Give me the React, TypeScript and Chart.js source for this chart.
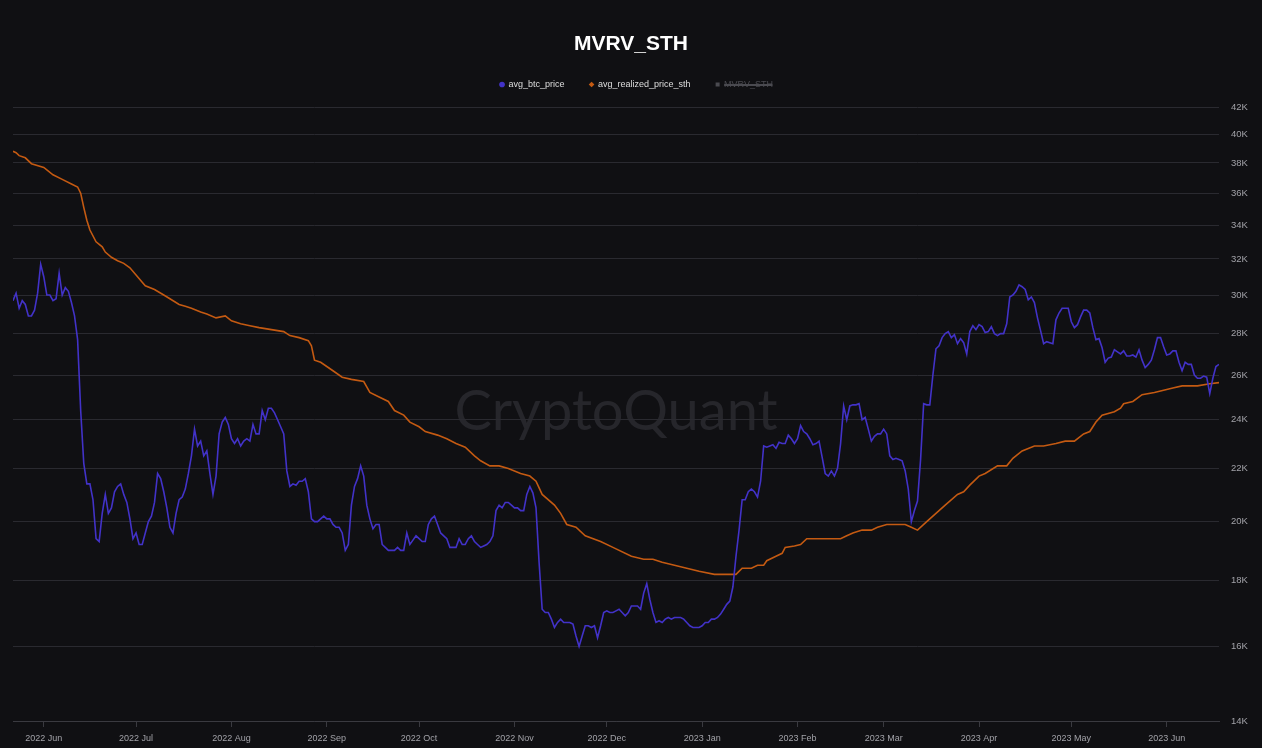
import React, { useEffect, useRef } from "react";
import { Chart, registerables } from "chart.js";

Chart.register(...registerables);

const FONT = "'Liberation Sans', Arial, Helvetica, sans-serif";
Chart.defaults.font.family = FONT;

const CHART_TITLE = "MVRV_STH";
const WATERMARK = "CryptoQuant";
const START_DATE = "2022-05-22";

const seriesNames = ["avg_btc_price", "avg_realized_price_sth", "MVRV_STH"];

// daily average BTC price, one value per day from START_DATE
const btcPrice: number[] = [
  29700, 30100, 29300, 29700, 29500, 28900, 28900, 29200, 30100, 31700,
  31000, 30000, 30000, 29700, 29800, 31200, 30000, 30400, 30200, 29600,
  28900, 27700, 24400, 22200, 21400, 21400, 20800, 19400, 19300, 20300,
  21000, 20300, 20500, 21100, 21300, 21400, 21000, 20700, 20100, 19400,
  19600, 19200, 19200, 19600, 20000, 20200, 20700, 21800, 21600, 21100,
  20500, 19800, 19600, 20300, 20800, 20900, 21200, 21800, 22500, 23600,
  22900, 23100, 22500, 22700, 21800, 21000, 21700, 23400, 23900, 24100,
  23800, 23200, 23000, 23200, 22900, 23100, 23200, 23100, 23800, 23400,
  23400, 24400, 24000, 24500, 24500, 24300, 24000, 23700, 23400, 21900,
  21300, 21400, 21350, 21500, 21500, 21600, 21100, 20100, 20000, 20000,
  20100, 20200, 20100, 20100, 19900, 19800, 19800, 19600, 19000, 19200,
  20600, 21300, 21600, 22100, 21700, 20600, 20100, 19750, 19900, 19900,
  19200, 19100, 19000, 19000, 19000, 19100, 19000, 19000, 19600, 19200,
  19350, 19500, 19400, 19300, 19300, 19900, 20100, 20200, 19900, 19600,
  19500, 19400, 19100, 19100, 19100, 19400, 19200, 19200, 19400, 19500,
  19300, 19200, 19100, 19150, 19200, 19300, 19500, 20400, 20600, 20500,
  20700, 20700, 20600, 20500, 20500, 20400, 20400, 21000, 21300, 21050,
  20500, 18600, 17100, 17000, 17000, 16800, 16550, 16700, 16800, 16700,
  16700, 16700, 16650, 16300, 16000, 16300, 16600, 16600, 16550, 16600,
  16250, 16600, 17000, 17050, 17000, 17000, 17050, 17100, 17000, 16900,
  17000, 17200, 17200, 17200, 17100, 17600, 17900, 17400, 17000, 16700,
  16750, 16700, 16800, 16850, 16800, 16850, 16850, 16850, 16800, 16700,
  16600, 16550, 16550, 16550, 16600, 16700, 16700, 16800, 16800, 16850,
  16950, 17100, 17250, 17350, 17800, 18800, 19700, 20800, 20800, 21100,
  21200, 21100, 20900, 21500, 22900, 22850, 22900, 22950, 22800, 23050,
  23000, 23000, 23350, 23200, 23000, 23200, 23750, 23500, 23400, 23200,
  22950, 23000, 23100, 22450, 21800, 21700, 21900, 21700, 22000, 23000,
  24600, 24000, 24600, 24650, 24650, 24700, 24000, 24100, 23600, 23100,
  23300, 23400, 23400, 23600, 23400, 22500, 22350, 22400, 22350, 22300,
  21900, 21200, 20000, 20400, 20750, 22350, 24700, 24650, 24650, 26000,
  27250, 27400, 27800, 28000, 28100, 27800, 27950, 27500, 27750, 27550,
  27000, 28100, 28400, 28200, 28450, 28350, 28050, 28100, 28350, 28000,
  27900, 28000, 28000, 28500, 29900, 30000, 30200, 30550, 30450, 30300,
  29750, 29900, 29600, 28800, 28150, 27500, 27600, 27550, 27500, 28700,
  29050, 29300, 29300, 29300, 28600, 28300, 28450, 28850, 29200, 29200,
  29050, 28300, 27700, 27750, 27300, 26600, 26800, 26850, 27200, 27100,
  27000, 27150, 26900, 26900, 26950, 26850, 27200, 26700, 26350, 26500,
  26700, 27200, 27800, 27800, 27350, 26950, 27000, 27150, 27150, 26600,
  26200, 26600, 26500, 26500, 26000, 25850, 25850, 25950, 25900, 25150,
  25850, 26400, 26500,
];

// realized price of short-term holders, read at these day offsets from START_DATE
const realizedDays: number[] = [
  0, 1, 2, 4, 6, 10, 13, 16, 19, 21,
  22, 23, 24, 25, 27, 29, 30, 32, 34, 36,
  38, 40, 42, 43, 46, 49, 51, 54, 56, 58,
  61, 63, 66, 69, 71, 74, 77, 80, 84, 88,
  90, 93, 96, 97, 98, 100, 104, 107, 110, 114,
  116, 119, 122, 124, 127, 129, 132, 134, 138, 141,
  144, 147, 150, 152, 155, 158, 161, 165, 168, 170,
  172, 176, 178, 180, 183, 186, 191, 195, 201, 205,
  208, 211, 215, 219, 223, 228, 232, 235, 237, 240,
  242, 244, 245, 248, 250, 251, 254, 256, 258, 261,
  263, 267, 269, 271, 273, 276, 279, 281, 284, 287,
  290, 292, 294, 297, 298, 301, 303, 307, 309, 311,
  314, 316, 320, 323, 325, 328, 332, 335, 339, 342,
  345, 348, 350, 352, 354, 358, 360, 361, 364, 367,
  371, 374, 377, 380, 385, 389, 392,
];
const realizedPrice: number[] = [
  38800, 38700, 38500, 38350, 37950, 37700, 37200, 36900, 36600, 36400,
  36000, 35100, 34300, 33700, 33000, 32700, 32400, 32100, 31900, 31750,
  31500, 31100, 30700, 30500, 30300, 30000, 29800, 29500, 29400, 29300,
  29100, 29000, 28800, 28900, 28650, 28500, 28400, 28300, 28200, 28100,
  27900, 27800, 27650, 27400, 26700, 26600, 26200, 25900, 25800, 25700,
  25200, 25000, 24800, 24400, 24200, 23900, 23700, 23500, 23350, 23200,
  23000, 22850, 22500, 22300, 22100, 22100, 22000, 21800, 21700, 21500,
  21000, 20600, 20300, 19900, 19800, 19500, 19300, 19100, 18800, 18700,
  18700, 18600, 18500, 18400, 18300, 18200, 18200, 18200, 18400, 18400,
  18500, 18500, 18650, 18800, 18900, 19100, 19150, 19200, 19400, 19400,
  19400, 19400, 19400, 19500, 19600, 19700, 19700, 19800, 19900, 19900,
  19900, 19800, 19700, 20000, 20100, 20400, 20600, 21000, 21100, 21350,
  21700, 21800, 22100, 22100, 22400, 22700, 22900, 22900, 23000, 23100,
  23100, 23400, 23500, 23900, 24200, 24350, 24500, 24700, 24800, 25100,
  25200, 25300, 25400, 25500, 25500, 25600, 25650,
];

const monthTickDates = [
  "2022-06-01", "2022-07-01", "2022-08-01", "2022-09-01", "2022-10-01", "2022-11-01", "2022-12-01",
  "2023-01-01", "2023-02-01", "2023-03-01", "2023-04-01", "2023-05-01", "2023-06-01",
];
const monthTickLabels = [
  "2022 Jun", "2022 Jul", "2022 Aug", "2022 Sep", "2022 Oct", "2022 Nov", "2022 Dec",
  "2023 Jan", "2023 Feb", "2023 Mar", "2023 Apr", "2023 May", "2023 Jun",
];
const yTickValues = [14000, 16000, 18000, 20000, 22000, 24000, 26000, 28000, 30000, 32000, 34000, 36000, 38000, 40000, 42000];

const BG = "#101013";
const BLUE = "#4232c8";
const ORANGE = "#c45a12";
const HIDDEN = "#4a4a50";
const GRID = "#2a2a30";
const TICK = "#a2a2a8";
const LEGEND_TEXT = "#dedede";

const dayOffset = (d: string) => Math.round((Date.parse(d) - Date.parse(START_DATE)) / 86400000);

const watermarkPlugin = {
  id: "watermark",
  beforeDraw(chart: any) {
    const { ctx, chartArea } = chart;
    if (!chartArea) return;
    ctx.save();
    ctx.font = `56px Lato, 'Noto Sans', sans-serif`;
    ctx.fillStyle = "#26262b";
    ctx.textAlign = "center";
    ctx.textBaseline = "middle";
    ctx.fillText(WATERMARK, (chartArea.left + chartArea.right) / 2, (chartArea.top + chartArea.bottom) / 2 - 2);
    ctx.restore();
  },
};

// extra space under the legend, and a small horizontal nudge of the legend row
const legendTweakPlugin = {
  id: "legendTweak",
  beforeLayout(chart: any) {
    const lg = chart.legend;
    if (lg && !lg.__tweaked) {
      const origFit = lg.fit;
      lg.fit = function (this: any) {
        origFit.call(this);
        this.height += 8;
      };
      const origDraw = lg.draw;
      lg.draw = function (this: any) {
        this.ctx.save();
        this.ctx.translate(5.5, 0);
        origDraw.call(this);
        this.ctx.restore();
      };
      lg.__tweaked = true;
    }
  },
};

export default function App() {
  const ref = useRef<HTMLCanvasElement | null>(null);

  useEffect(() => {
    if (!ref.current) return;
    const tickDays = monthTickDates.map(dayOffset);
    const lastDay = btcPrice.length - 1;

    const chart = new Chart(ref.current, {
      type: "line",
      data: {
        datasets: [
          {
            label: seriesNames[0],
            data: btcPrice.map((v, i) => ({ x: i, y: v })),
            borderColor: BLUE,
            backgroundColor: BLUE,
            borderWidth: 1.6,
            pointRadius: 0,
            pointStyle: "circle",
            tension: 0,
            yAxisID: "y",
          },
          {
            label: seriesNames[1],
            data: realizedDays.map((d, i) => ({ x: d, y: realizedPrice[i] })),
            borderColor: ORANGE,
            backgroundColor: ORANGE,
            borderWidth: 1.6,
            pointRadius: 0,
            pointStyle: "rectRot",
            tension: 0,
            yAxisID: "y",
          },
          {
            label: seriesNames[2],
            data: [],
            borderColor: HIDDEN,
            backgroundColor: HIDDEN,
            borderWidth: 1.6,
            pointRadius: 0,
            pointStyle: "rect",
            hidden: true,
            yAxisID: "y1",
          },
        ],
      },
      options: {
        responsive: false,
        animation: false,
        events: [],
        layout: { padding: { top: 0, left: 13, right: 13, bottom: 0 } },
        plugins: {
          title: {
            display: true,
            text: CHART_TITLE,
            color: "#ffffff",
            font: { size: 21, weight: "bold", family: FONT, lineHeight: 1 },
            padding: { top: 34, bottom: 0 },
          },
          legend: {
            display: true,
            position: "top",
            labels: {
              usePointStyle: true,
              boxWidth: 4,
              boxHeight: 4,
              padding: 25,
              color: LEGEND_TEXT,
              font: { size: 9, family: FONT },
              generateLabels(c: any) {
                const items = (Chart.defaults.plugins.legend.labels as any).generateLabels(c);
                return items.map((it: any) => ({
                  ...it,
                  lineWidth: 0,
                  fontColor: it.hidden ? HIDDEN : LEGEND_TEXT,
                  fillStyle: it.hidden ? HIDDEN : it.fillStyle,
                  strokeStyle: it.hidden ? HIDDEN : it.strokeStyle,
                }));
              },
            },
          },
          tooltip: { enabled: false },
        },
        scales: {
          x: {
            type: "linear",
            min: 0,
            max: lastDay,
            afterBuildTicks(scale: any) {
              scale.ticks = tickDays.map((v) => ({ value: v }));
            },
            afterFit(scale: any) {
              scale.height = 27;
            },
            ticks: {
              autoSkip: false,
              maxRotation: 0,
              color: TICK,
              padding: 7,
              font: { size: 9, family: FONT, lineHeight: 1 },
              callback: (_v: any, i: number) => monthTickLabels[i],
            },
            grid: { display: true, drawOnChartArea: false, drawTicks: true, tickLength: 6, color: "#3a3a40" },
            border: { display: true, color: "#3a3a40" },
          },
          y: {
            type: "logarithmic",
            position: "right",
            min: 14000,
            max: 42000,
            afterBuildTicks(scale: any) {
              scale.ticks = yTickValues.map((v) => ({ value: v }));
            },
            afterFit(scale: any) {
              scale.width = 30;
            },
            ticks: {
              color: TICK,
              padding: 12,
              font: { size: 9.5, family: FONT },
              callback: (v: any) => `${Number(v) / 1000}K`,
            },
            grid: { color: GRID, drawTicks: false },
            border: { display: false },
          },
          y1: { display: false, type: "linear" },
        },
      } as any,
      plugins: [watermarkPlugin, legendTweakPlugin],
    });

    return () => chart.destroy();
  }, []);

  return (
    <div style={{ position: "fixed", left: 0, top: 0, width: "100vw", height: "100vh", background: BG }}>
      <canvas ref={ref} width={1262} height={748} style={{ display: "block" }} />
    </div>
  );
}
